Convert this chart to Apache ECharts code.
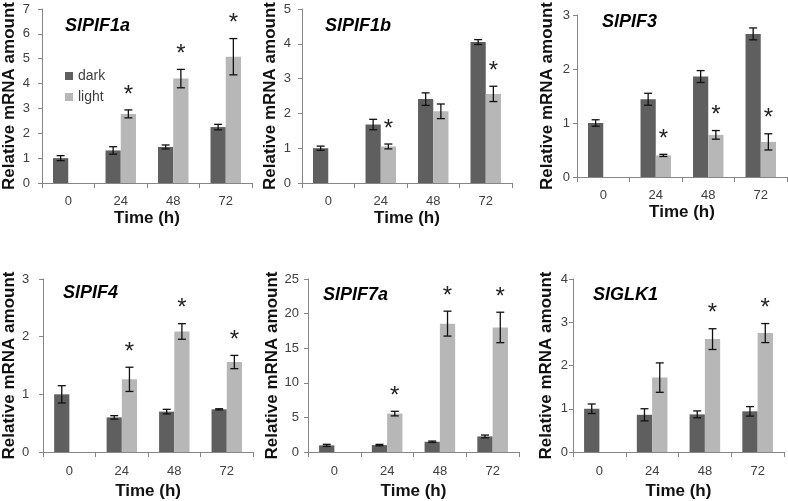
<!DOCTYPE html>
<html>
<head>
<meta charset="utf-8">
<script src="https://cdn.jsdelivr.net/npm/echarts@6/dist/echarts.min.js"></script>
<style>
html,body{margin:0;padding:0;background:#fff;}
#chart{width:788px;height:501px;}
</style>
</head>
<body>
<div id="chart"></div>
<script>
// ---------- data ----------
const categories = ['0', '24', '48', '72'];
const genes = ['SlPIF1a', 'SlPIF1b', 'SlPIF3', 'SlPIF4', 'SlPIF7a', 'SlGLK1'];
const yMaxValues = [7, 5, 3, 3, 25, 4];
const yIntervals = [1, 1, 1, 1, 5, 1];

const darkSlPIF1a = [1.00, 1.31, 1.45, 2.25];
const darkErrSlPIF1a = [0.10, 0.15, 0.08, 0.11];
const lightSlPIF1a = [0, 2.78, 4.20, 5.08];
const lightErrSlPIF1a = [0, 0.16, 0.37, 0.73];
const starSlPIF1a = [0, 1, 1, 1];

const darkSlPIF1b = [1.00, 1.68, 2.41, 4.05];
const darkErrSlPIF1b = [0.06, 0.15, 0.18, 0.07];
const lightSlPIF1b = [0, 1.05, 2.06, 2.56];
const lightErrSlPIF1b = [0, 0.07, 0.21, 0.22];
const starSlPIF1b = [0, 1, 0, 1];

const darkSlPIF3 = [1.00, 1.44, 1.86, 2.65];
const darkErrSlPIF3 = [0.06, 0.11, 0.11, 0.11];
const lightSlPIF3 = [0, 0.40, 0.78, 0.65];
const lightErrSlPIF3 = [0, 0.02, 0.08, 0.15];
const starSlPIF3 = [0, 1, 1, 1];

const darkSlPIF4 = [1.00, 0.60, 0.70, 0.74];
const darkErrSlPIF4 = [0.15, 0.03, 0.04, 0.01];
const lightSlPIF4 = [0, 1.26, 2.09, 1.56];
const lightErrSlPIF4 = [0, 0.21, 0.135, 0.115];
const starSlPIF4 = [0, 1, 1, 1];

const darkSlPIF7a = [0.96, 1.00, 1.48, 2.25];
const darkErrSlPIF7a = [0.15, 0.10, 0.10, 0.20];
const lightSlPIF7a = [0, 5.55, 18.55, 18.0];
const lightErrSlPIF7a = [0, 0.33, 1.8, 2.2];
const starSlPIF7a = [0, 1, 1, 1];

const darkSlGLK1 = [1.00, 0.86, 0.87, 0.94];
const darkErrSlGLK1 = [0.11, 0.14, 0.08, 0.11];
const lightSlGLK1 = [0, 1.72, 2.61, 2.75];
const lightErrSlGLK1 = [0, 0.34, 0.24, 0.22];
const starSlGLK1 = [0, 0, 1, 1];

const panelData = [
  [darkSlPIF1a, darkErrSlPIF1a, lightSlPIF1a, lightErrSlPIF1a, starSlPIF1a],
  [darkSlPIF1b, darkErrSlPIF1b, lightSlPIF1b, lightErrSlPIF1b, starSlPIF1b],
  [darkSlPIF3, darkErrSlPIF3, lightSlPIF3, lightErrSlPIF3, starSlPIF3],
  [darkSlPIF4, darkErrSlPIF4, lightSlPIF4, lightErrSlPIF4, starSlPIF4],
  [darkSlPIF7a, darkErrSlPIF7a, lightSlPIF7a, lightErrSlPIF7a, starSlPIF7a],
  [darkSlGLK1, darkErrSlGLK1, lightSlGLK1, lightErrSlGLK1, starSlGLK1]
];

// ---------- layout ----------
const layouts = [
  {left: 42, top: 8, width: 210, height: 175, tx: 65, ty: 17, yGap: 24, yMargin: 12, xGap: 27, xMargin: 12},
  {left: 302, top: 8, width: 210, height: 175, tx: 325, ty: 17, yGap: 23, yMargin: 11, xGap: 27, xMargin: 12},
  {left: 577, top: 7, width: 210, height: 170, tx: 602, ty: 13, yGap: 21, yMargin: 7, xGap: 27, xMargin: 12},
  {left: 43, top: 279, width: 210, height: 174, tx: 63, ty: 284, yGap: 24, yMargin: 14, xGap: 31, xMargin: 13},
  {left: 308, top: 279, width: 211, height: 174, tx: 323, ty: 286, yGap: 24, yMargin: 9, xGap: 31, xMargin: 13},
  {left: 573, top: 279, width: 211, height: 174, tx: 593, ty: 286, yGap: 18, yMargin: 5, xGap: 31, xMargin: 13}
];

const CAT_GAP = 0.42;
const DARK = '#5f5f5f';
const LIGHT = '#b7b7b7';
const AXIS = '#868686';
const FONT = '"Liberation Sans", Arial, sans-serif';

function makeRenderItem() {
  return function (params, api) {
    const idx = api.value(0);
    const catW = api.size([1, 0])[0];
    const bw = catW * (1 - CAT_GAP) / 2;
    const cx = api.coord([idx, 0])[0];
    const children = [];
    const items = [
      [api.value(1), api.value(2), cx - bw / 2],
      [api.value(3), api.value(4), cx + bw / 2]
    ];
    items.forEach(function (it) {
      const v = it[0], e = it[1], x = it[2];
      if (e > 0) {
        const yT = api.coord([idx, v + e])[1];
        const yB = api.coord([idx, v - e])[1];
        const st = {stroke: '#111', lineWidth: 1.3};
        children.push({type: 'line', shape: {x1: x, y1: yT, x2: x, y2: yB}, style: st});
        children.push({type: 'line', shape: {x1: x - 4, y1: yT, x2: x + 4, y2: yT}, style: st});
        children.push({type: 'line', shape: {x1: x - 4, y1: yB, x2: x + 4, y2: yB}, style: st});
      }
    });
    if (api.value(5)) {
      const v = api.value(3), e = api.value(4);
      const yT = api.coord([idx, v + e])[1];
      children.push({
        type: 'text',
        style: {
          text: '*', x: cx + bw / 2, y: yT - 15,
          textAlign: 'center', textVerticalAlign: 'middle',
          fontSize: 24, fontFamily: FONT, fill: '#222'
        }
      });
    }
    return {type: 'group', children: children};
  };
}

const grids = [], xAxes = [], yAxes = [], series = [], titles = [];
layouts.forEach(function (L, i) {
  grids.push({left: L.left, top: L.top, width: L.width, height: L.height, containLabel: false});
  xAxes.push({
    type: 'category', gridIndex: i, data: categories,
    name: 'Time (h)', nameLocation: 'middle', nameGap: L.xGap,
    nameTextStyle: {fontSize: 17, fontWeight: 'bold', fontFamily: FONT, color: '#111'},
    axisLine: {lineStyle: {color: AXIS, width: 1}},
    axisTick: {show: true, length: 5, lineStyle: {color: AXIS}},
    axisLabel: {fontSize: 13, color: '#404040', fontFamily: FONT, margin: L.xMargin},
    splitLine: {show: false}
  });
  yAxes.push({
    type: 'value', gridIndex: i, min: 0, max: yMaxValues[i], interval: yIntervals[i],
    name: 'Relative mRNA amount', nameLocation: 'middle', nameGap: L.yGap,
    nameTextStyle: {fontSize: 17, fontWeight: 'bold', fontFamily: FONT, color: '#111'},
    axisLine: {show: true, lineStyle: {color: AXIS, width: 1}},
    axisTick: {show: true, length: 4, lineStyle: {color: AXIS}},
    axisLabel: {fontSize: 13, color: '#404040', fontFamily: FONT, margin: L.yMargin},
    splitLine: {show: false}
  });
  titles.push({
    text: genes[i], left: L.tx, top: L.ty, padding: 0,
    textStyle: {fontSize: 18, fontWeight: 'bold', fontStyle: 'italic', fontFamily: FONT, color: '#000'}
  });
  const d = panelData[i];
  series.push({
    type: 'bar', name: 'dark', xAxisIndex: i, yAxisIndex: i, data: d[0],
    itemStyle: {color: DARK}, barGap: '0%', barCategoryGap: (CAT_GAP * 100) + '%',
    silent: true, animation: false
  });
  series.push({
    type: 'bar', name: 'light', xAxisIndex: i, yAxisIndex: i, data: d[2],
    itemStyle: {color: LIGHT}, barGap: '0%', barCategoryGap: (CAT_GAP * 100) + '%',
    silent: true, animation: false
  });
  series.push({
    type: 'custom', xAxisIndex: i, yAxisIndex: i, z: 10,
    renderItem: makeRenderItem(),
    encode: {x: 0, y: [1, 3]},
    data: categories.map(function (c, k) { return [k, d[0][k], d[1][k], d[2][k], d[3][k], d[4][k]]; }),
    silent: true, animation: false, clip: false
  });
});

const chart = echarts.init(document.getElementById('chart'), null, {renderer: 'canvas'});
chart.setOption({
  backgroundColor: '#fff',
  animation: false,
  title: titles,
  legend: {
    data: ['dark', 'light'], orient: 'vertical', left: 60, top: 64,
    itemWidth: 8, itemHeight: 8, itemGap: 7, icon: 'rect',
    textStyle: {fontSize: 14, color: '#404040', fontFamily: FONT},
    selectedMode: false
  },
  grid: grids,
  xAxis: xAxes,
  yAxis: yAxes,
  series: series
});
</script>
</body>
</html>
